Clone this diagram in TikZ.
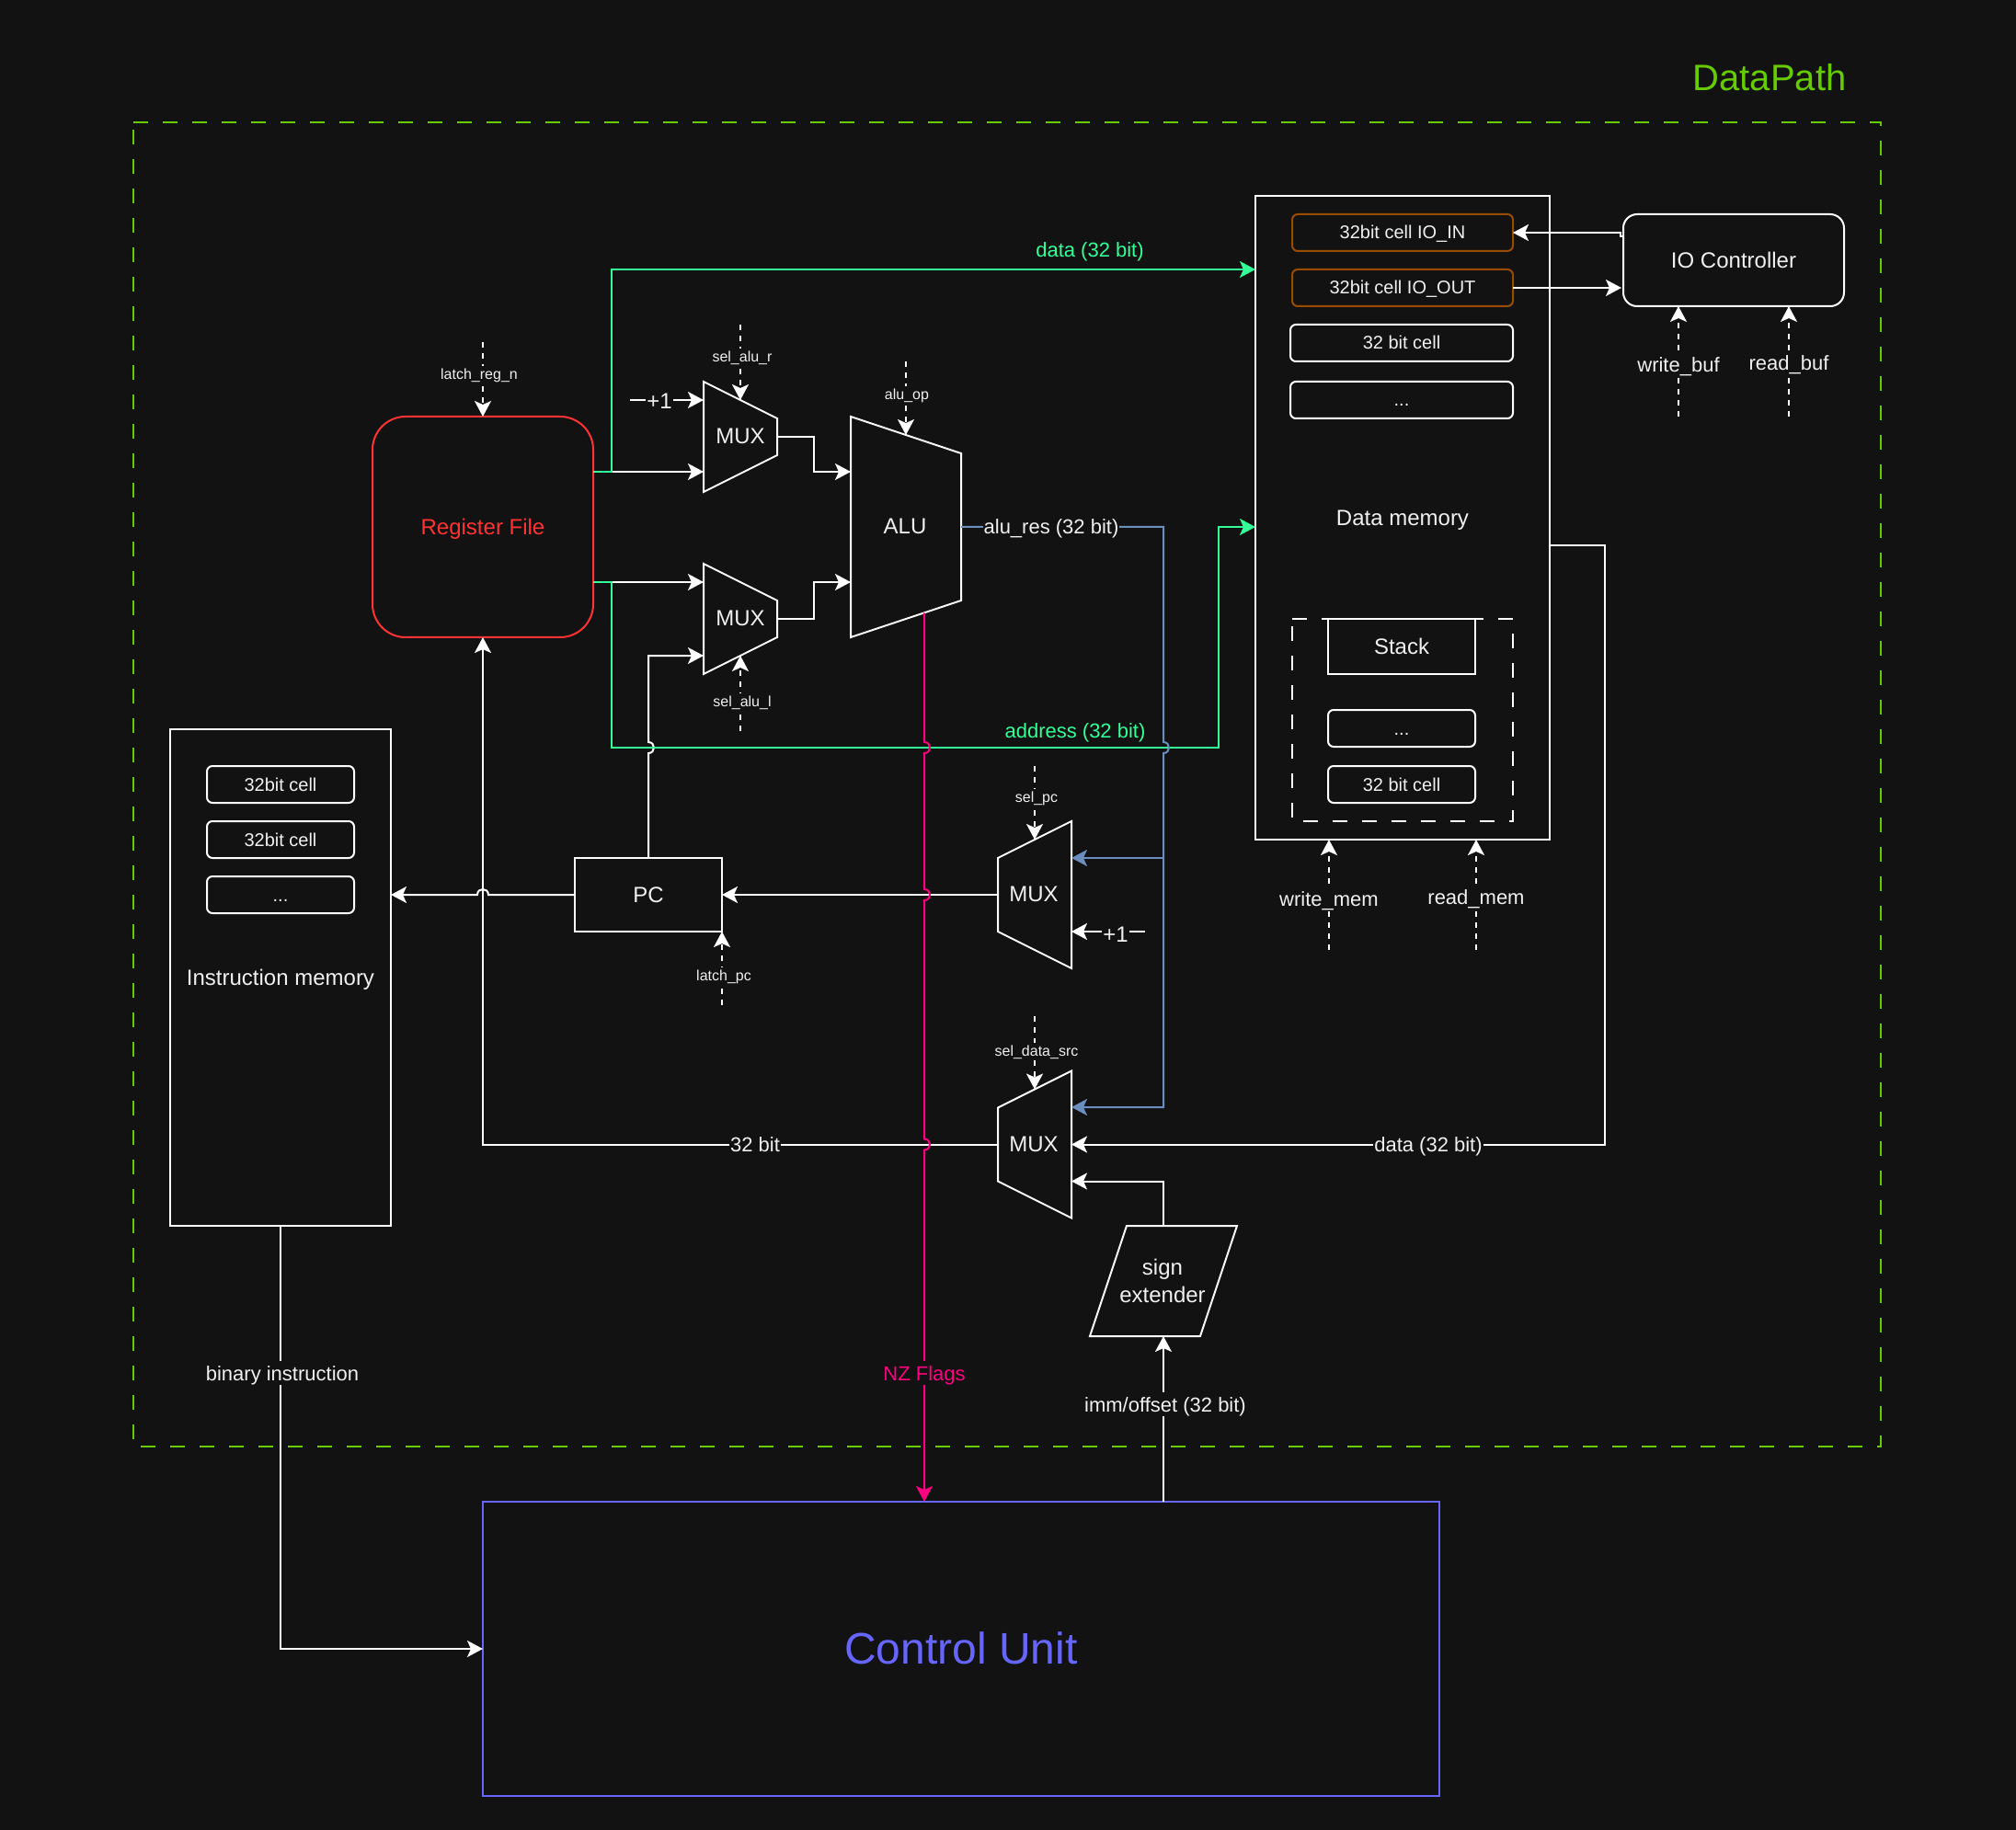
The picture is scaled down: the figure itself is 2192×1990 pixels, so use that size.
\documentclass[tikz,border=0pt]{standalone}
\usepackage{fontspec}
\setmainfont{Liberation Sans}
\usetikzlibrary{arrows.meta}
\definecolor{bgc}{HTML}{121212}
\definecolor{txtc}{HTML}{F0F0F0}
\definecolor{mint}{HTML}{33FF99}
\definecolor{pinkc}{HTML}{FF0080}
\definecolor{bluec}{HTML}{6C8EBF}
\definecolor{redc}{HTML}{FF3333}
\definecolor{orangec}{HTML}{994C00}
\definecolor{framec}{HTML}{66CC00}
\definecolor{cuc}{HTML}{6666FF}
\tikzset{
  base/.style={inner sep=0pt,outer sep=0pt,text=txtc,align=center},
  fa/.style={font=\fontsize{8}{9.6}\selectfont,text height=7pt,text depth=1.8pt},
  fb/.style={font=\fontsize{10}{12}\selectfont,text height=9pt,text depth=2pt},
  fc/.style={font=\fontsize{11}{13.2}\selectfont,text height=10.5pt,text depth=2.5pt},
  fd/.style={font=\fontsize{12}{14}\selectfont,text height=11.4pt,text depth=3pt},
  boxnode/.style={base,draw=white,line width=1pt,fd},
  cell/.style={boxnode,fb,rounded corners=3pt,minimum width=80pt,minimum height=20pt},
  iocell/.style={cell,minimum width=120pt,draw=orangec},
  memcell/.style={cell,minimum width=121pt},
  word/.style={base,fd},
  lbl/.style={base,fill=bgc,fc,inner xsep=0.5pt},
  tiny/.style={base,fill=bgc,fa,inner xsep=0.5pt},
  shapeline/.style={draw=white,line width=1pt},
  wire/.style={draw=white,line width=1pt,-{Stealth[length=8.5pt,width=9pt,inset=2pt]}},
  ctrl/.style={wire,dash pattern=on 3pt off 3pt},
  gwire/.style={wire,draw=mint,color=mint},
  bwire/.style={wire,draw=bluec,color=bluec},
  pwire/.style={wire,draw=pinkc,color=pinkc},
}
\begin{document}
\begin{tikzpicture}[x=0.5pt,y=-0.5pt]
\useasboundingbox (0,0) rectangle (2192,1990);
\fill[bgc] (0,0) rectangle (2192,1990);

% frame
\draw[framec,line width=1pt,dash pattern=on 8pt off 8pt] (145,133) -- (2045,133) -- (2045,1573) -- (145,1573) -- cycle;
\node[base,text=framec,font=\fontsize{20}{24}\selectfont] (dptitle) at (1924,84) {DataPath};

% boxes
\node[boxnode,draw=redc,text=redc,minimum width=120pt,minimum height=120pt,rounded corners=18pt] (rf) at (525,573) {Register File};
\node[boxnode,minimum width=160pt,minimum height=350pt] (dm) at (1525,563) {Data memory};
\node[boxnode,minimum width=120pt,minimum height=270pt] (im) at (305,1063) {Instruction memory};
\node[boxnode,minimum width=80pt,minimum height=40pt] (pc) at (705,973) {PC};
\node[boxnode,minimum width=120pt,minimum height=50pt,rounded corners=7.5pt] (io) at (1885,283) {IO Controller};
\node[base,draw=cuc,line width=1pt,text=cuc,font=\fontsize{24}{28}\selectfont,text height=20pt,text depth=3.4pt,minimum width=520pt,minimum height=160pt] (cu) at (1045,1793) {Control Unit};

% memory cells
\node[iocell] (ioin) at (1525,253) {32bit cell IO\_IN};
\node[iocell] (ioout) at (1525,313) {32bit cell IO\_OUT};
\node[memcell] (c1) at (1524,373) {32 bit cell};
\node[memcell] (c2) at (1524,435) {...};
\draw[white,line width=1pt,dash pattern=on 8pt off 8pt] (1405,673) -- (1645,673) -- (1645,893) -- (1405,893) -- cycle;
\node[boxnode,minimum width=80pt,minimum height=30pt] (stack) at (1524,703) {Stack};
\node[cell] (s1) at (1524,792) {...};
\node[cell] (s2) at (1524,853) {32 bit cell};
\node[cell] (i1) at (305,853) {32bit cell};
\node[cell] (i2) at (305,913) {32bit cell};
\node[cell] (i3) at (305,973) {...};

% trapezoids
\draw[shapeline] (765,415) -- (845,455) -- (845,495) -- (765,535) -- cycle;
\node[word] (mux1) at (805,474) {MUX};
\draw[shapeline] (765,613) -- (845,653) -- (845,693) -- (765,733) -- cycle;
\node[word] (mux2) at (805,672) {MUX};
\draw[shapeline] (925,453) -- (1045,493) -- (1045,653) -- (925,693) -- cycle;
\node[word] (alu) at (984,572) {ALU};
\draw[shapeline] (1085,933) -- (1165,893) -- (1165,1053) -- (1085,1013) -- cycle;
\node[word] (mux3) at (1124,972) {MUX};
\draw[shapeline] (1085,1204.5) -- (1165,1164.5) -- (1165,1324.5) -- (1085,1284.5) -- cycle;
\node[word] (mux4) at (1124,1244) {MUX};
\draw[shapeline] (1225,1333) -- (1345,1333) -- (1305,1453) -- (1185,1453) -- cycle;
\node[base,font=\fontsize{12}{15}\selectfont] (sx) at (1264,1393) {sign\\extender};

% ports
\coordinate (rfa) at (645,513);
\coordinate (rfb) at (645,633);
\coordinate (ga) at (665,513);
\coordinate (gb) at (665,633);
\coordinate (m1a) at (765,435);
\coordinate (m1b) at (765,513);
\coordinate (m1s) at (805,435);
\coordinate (m1o) at (845,475);
\coordinate (m2a) at (765,633);
\coordinate (m2b) at (765,713);
\coordinate (m2s) at (805,713);
\coordinate (m2o) at (845,673);
\coordinate (alua) at (925,513);
\coordinate (alub) at (925,633);
\coordinate (alus) at (985,473);
\coordinate (aluo) at (1045,573);
\coordinate (aluf) at (1005,666.5);
\coordinate (m3a) at (1165,933);
\coordinate (m3b) at (1165,1013);
\coordinate (m3o) at (1085,973);
\coordinate (m3s) at (1125,913);
\coordinate (m4a) at (1165,1204);
\coordinate (m4b) at (1165,1244.5);
\coordinate (m4c) at (1165,1284.5);
\coordinate (m4o) at (1085,1244.5);
\coordinate (m4s) at (1125,1184.5);
\coordinate (dma) at (1365,293);
\coordinate (dmb) at (1365,573);
\coordinate (dmo) at (1685,593);
\coordinate (cuf) at (1005,1633);
\coordinate (cui) at (1265,1633);
\coordinate (sxb) at (1265,1453);
\coordinate (sxt) at (1265,1333);
\coordinate (bj) at (1265,933);
\coordinate (ioa) at (1765,257);
\coordinate (iob) at (1763,313);
% free ends
\coordinate (p1a) at (685,435);
\coordinate (p1b) at (1245,1013);
\coordinate (e1) at (525,372);
\coordinate (e2) at (805,353);
\coordinate (e3) at (985,393);
\coordinate (e4) at (805,795);
\coordinate (e5) at (1125,833);
\coordinate (e6) at (1125,1105);
\coordinate (e7) at (785,1093);
\coordinate (e8) at (1445,1033);
\coordinate (e9) at (1605,1033);
\coordinate (e10) at (1825,453);
\coordinate (e11) at (1945,453);

% white wires
\draw[wire] (rfa) -- (m1b);
\draw[wire] (rfb) -- (m2a);
\draw[wire] (m1o) -- (885,475) -- (885,513) -- (alua);
\draw[wire] (m2o) -- (885,673) -- (885,633) -- (alub);
\draw[wire] (pc.north) -- (705,819) .. controls (713,819) and (713,807) .. (705,807) -- (705,713) -- (m2b);
\draw[wire] (m3o) -- (pc.east);
\draw[wire] (pc.west) -- (531,973) .. controls (531,965) and (519,965) .. (519,973) -- (im.east |- pc.west);
\draw[wire] (m4o) -- (525,1244.5) -- (rf.south);
\draw[wire] (dmo) -- (1745,593) -- (1745,1244.5) -- (m4b);
\draw[wire] (sxt) -- (1265,1284.5) -- (m4c);
\draw[wire] (cui) -- (sxb);
\draw[wire] (im.south) -- (305,1793) -- (cu.west);
\draw[wire] (p1a) -- (m1a);
\draw[wire] (p1b) -- (m3b);
\draw[wire] (ioa) -- (1762,257) -- (1762,253) -- (ioin.east);
\draw[wire] (ioout.east) -- (iob);

% green wires
\draw[gwire] (rfa) -- (ga) -- (665,293) -- (dma);
\draw[gwire] (rfb) -- (gb) -- (665,813) -- (1325,813) -- (1325,573) -- (dmb);

% blue wires
\draw[bwire] (aluo) -- (1265,573) -- (1265,807) .. controls (1273,807) and (1273,819) .. (1265,819) -- (1265,1204) -- (m4a);
\draw[bwire] (bj) -- (m3a);

% pink wire
\draw[pwire] (aluf) -- (1005,807) .. controls (1013,807) and (1013,819) .. (1005,819)
  -- (1005,967) .. controls (1013,967) and (1013,979) .. (1005,979)
  -- (1005,1238.5) .. controls (1013,1238.5) and (1013,1250.5) .. (1005,1250.5) -- (cuf);

% control wires
\draw[ctrl] (e1) -- (rf.north);
\draw[ctrl] (e2) -- (m1s);
\draw[ctrl] (e3) -- (alus);
\draw[ctrl] (e4) -- (m2s);
\draw[ctrl] (e5) -- (m3s);
\draw[ctrl] (e6) -- (m4s);
\draw[ctrl] (e7) -- (pc.south east);
\draw[ctrl] (e8) -- (1445,913);
\draw[ctrl] (e9) -- (1605,913);
\draw[ctrl] (e10) -- (1825,333);
\draw[ctrl] (e11) -- (1945,333);

% labels
\node[lbl,text=mint,fill=none] (l1) at (1185,272) {data (32 bit)};
\node[lbl,text=mint,fill=none] (l2) at (1169,794) {address (32 bit)};
\node[lbl] (l3) at (1143,573) {alu\_res (32 bit)};
\node[lbl] (l4) at (821,1244.5) {32 bit};
\node[lbl] (l5) at (1553,1244.5) {data (32 bit)};
\node[lbl] (l6) at (307,1493) {binary instruction};
\node[lbl,text=pinkc] (l7) at (1005,1493) {NZ Flags};
\node[lbl] (l8) at (1267,1527) {imm/offset (32 bit)};
\node[lbl] (l9) at (1445,977) {write\_mem};
\node[lbl] (l10) at (1605,975) {read\_mem};
\node[lbl] (l11) at (1825,397) {write\_buf};
\node[lbl] (l12) at (1945,395) {read\_buf};
\node[lbl,fd] (p1) at (717,436) {+1};
\node[lbl,fd] (p2) at (1213,1016) {+1};
\node[tiny] (t1) at (521,407) {latch\_reg\_n};
\node[tiny] (t2) at (807,388) {sel\_alu\_r};
\node[tiny] (t3) at (986,429) {alu\_op};
\node[tiny] (t4) at (807,763) {sel\_alu\_l};
\node[tiny] (t5) at (1127,867) {sel\_pc};
\node[tiny] (t6) at (1127,1143) {sel\_data\_src};
\node[tiny] (t7) at (787,1061) {latch\_pc};
\end{tikzpicture}
\end{document}
